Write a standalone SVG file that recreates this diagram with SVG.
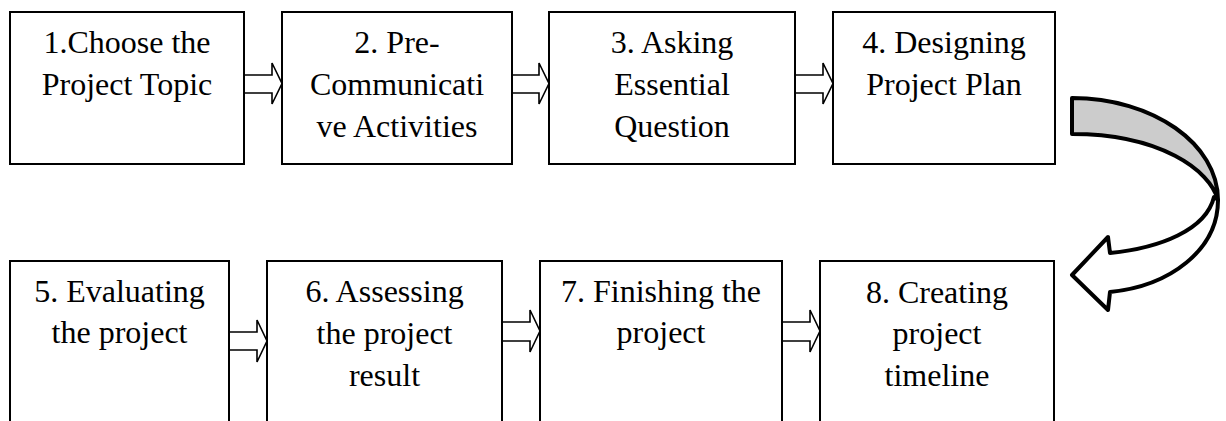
<svg xmlns="http://www.w3.org/2000/svg" width="1226" height="421" viewBox="0 0 1226 421">
<style>
.box{fill:#fff;stroke:#000;stroke-width:2}
.t{font-family:"Liberation Serif","Times New Roman",serif;font-size:32px;fill:#000;text-anchor:middle}
.arr{fill:#fff;stroke:#000;stroke-width:1.6;stroke-linejoin:miter}
.curve{stroke:#000;stroke-width:4;stroke-linejoin:round}
</style>
<rect width="1226" height="421" fill="#fff"/>
<g id="connectors">
<path class="arr" d="M244,75 H272 V63 L282,83.5 L272,104 V93 H244 Z"/>
<path class="arr" d="M512,75 H539 V63 L549,83.5 L539,104 V93 H512 Z"/>
<path class="arr" d="M795,75 H823 V63 L833,83.5 L823,104 V93 H795 Z"/>
<path class="arr" d="M229,332 H257 V320 L267,341 L257,362 V350 H229 Z"/>
<path class="arr" d="M502,322 H530 V310 L540,331 L530,352 V341 H502 Z"/>
<path class="arr" d="M782,322 H810 V310 L820,331 L810,352 V341 H782 Z"/>
<g id="curved-arrow">
<path class="curve" fill="#cccccc" d="M1072,98 C1153,98 1218,144 1218,200 C1210,170 1160,134 1072,134 Z"/>
<path class="curve" fill="#ffffff" d="M1218,200 C1218,250 1170,286 1110,292 L1108,310 L1072,275 L1108,237 L1110,253 C1160,248 1206,230 1214,197 Z"/>
</g>
</g>
<g id="n1"><rect class="box" x="10" y="12" width="234" height="152"/><text class="t" x="127" y="53">1.Choose the</text><text class="t" x="127" y="95">Project Topic</text></g>
<g id="n2"><rect class="box" x="282" y="12" width="230" height="152"/><text class="t" x="397" y="53">2. Pre-</text><text class="t" x="397" y="95">Communicati</text><text class="t" x="397" y="137">ve Activities</text></g>
<g id="n3"><rect class="box" x="549" y="12" width="246" height="152"/><text class="t" x="672" y="53">3. Asking</text><text class="t" x="672" y="95">Essential</text><text class="t" x="672" y="137">Question</text></g>
<g id="n4"><rect class="box" x="833" y="12" width="222" height="152"/><text class="t" x="944" y="53">4. Designing</text><text class="t" x="944" y="95">Project Plan</text></g>
<g id="n5"><rect class="box" x="10" y="261" width="219" height="180"/><text class="t" x="119.5" y="302">5. Evaluating</text><text class="t" x="119.5" y="343">the project</text></g>
<g id="n6"><rect class="box" x="267" y="261" width="235" height="180"/><text class="t" x="384.5" y="302">6. Assessing</text><text class="t" x="384.5" y="344">the project</text><text class="t" x="384.5" y="386">result</text></g>
<g id="n7"><rect class="box" x="540" y="261" width="242" height="180"/><text class="t" x="661" y="302">7. Finishing the</text><text class="t" x="661" y="343">project</text></g>
<g id="n8"><rect class="box" x="820" y="261" width="234" height="180"/><text class="t" x="937" y="303">8. Creating</text><text class="t" x="937" y="344">project</text><text class="t" x="937" y="386">timeline</text></g>
</svg>
